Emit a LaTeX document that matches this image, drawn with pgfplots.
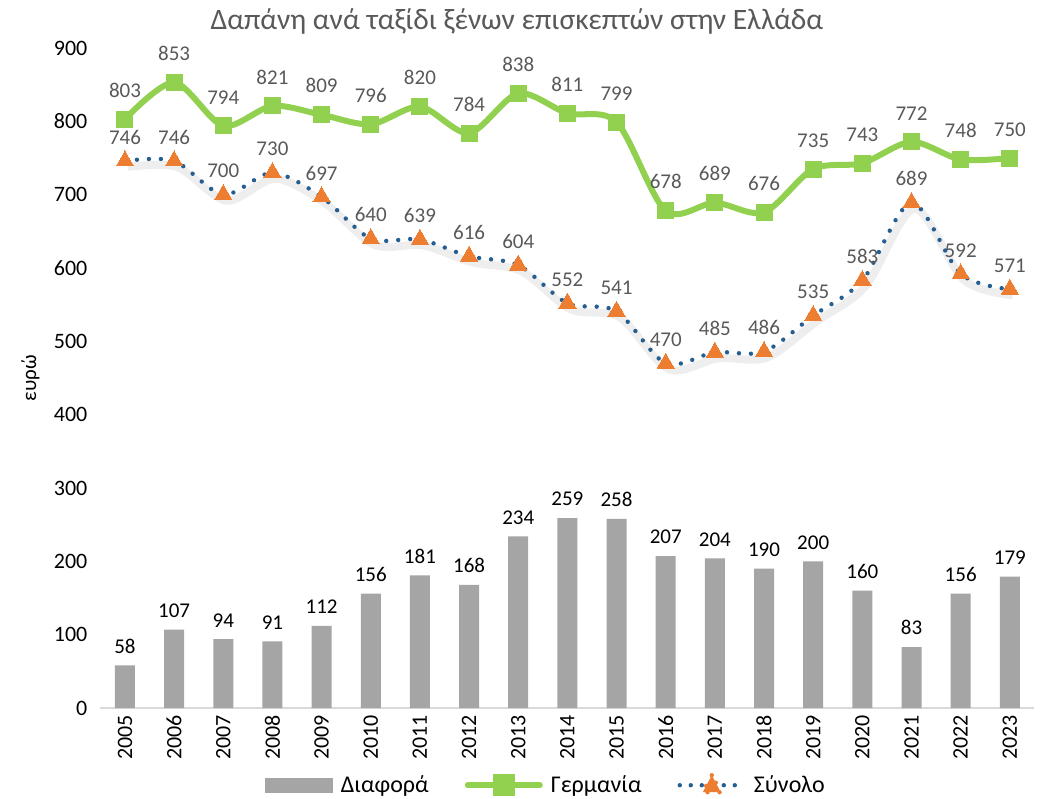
\documentclass[border=0pt]{standalone}
\usepackage{pgfplots}
\pgfplotsset{compat=1.18}
\usepackage{fontspec}
\setmainfont{Carlito}

\definecolor{barg}{HTML}{A5A5A5}
\definecolor{deu}{HTML}{92D050}
\definecolor{tot}{HTML}{255E91}
\definecolor{tri}{HTML}{ED7D31}
\definecolor{lbl}{HTML}{595959}
\definecolor{axl}{HTML}{D9D9D9}

\pgfplotstableread{
year diff germany total
2005 58  803 746
2006 107 853 746
2007 94  794 700
2008 91  821 730
2009 112 809 697
2010 156 796 640
2011 181 820 639
2012 168 784 616
2013 234 838 604
2014 259 811 552
2015 258 799 541
2016 207 678 470
2017 204 689 485
2018 190 676 486
2019 200 735 535
2020 160 743 583
2021 83  772 689
2022 156 748 592
2023 179 750 571
}\data

\begin{document}
\begin{tikzpicture}
\useasboundingbox (-50.2pt,-45pt) rectangle (471.3pt,354pt);
\begin{axis}[
    scale only axis,
    width=467pt, height=330pt,
    xmin=2004.5, xmax=2023.5,
    ymin=0, ymax=900,
    xtick=data,
    ytick={0,100,...,900},
    x tick label style={rotate=90, anchor=east, font=\fontsize{11}{13}\selectfont},
    y tick label style={font=\fontsize{11}{13}\selectfont, xshift=-3pt},
    xticklabel={\pgfmathprintnumber[1000 sep=]{\tick}},
    /pgf/number format/assume math mode=true,
    /pgf/number format/1000 sep={},
    major tick length=0pt,
    axis x line*=bottom,
    axis y line*=left,
    x axis line style={draw=axl, line width=0.8pt, -},
    y axis line style={draw=none},
    title={Δαπάνη ανά ταξίδι ξένων επισκεπτών στην Ελλάδα},
    title style={at={(0.446,1)}, anchor=south, yshift=-2.5pt, text=lbl, font=\fontsize{14.8}{17}\selectfont},
    ylabel={ευρώ},
    ylabel style={font=\fontsize{10.5}{12}\selectfont, at={(axis description cs:-0.075,0.5)}, anchor=center},
    legend style={at={(0.478,-0.117)}, anchor=center, draw=none, legend columns=3,
        font=\fontsize{12}{14}\selectfont, inner sep=0pt,
        /tikz/every odd column/.append style={column sep=2pt},
        /tikz/every even column/.append style={column sep=16pt}},
    legend cell align=left,
]
\addplot[ybar, bar width=10pt, fill=barg, draw=none,
    nodes near coords, every node near coord/.append style={font=\fontsize{10.5}{12}\selectfont, text=black, yshift=2.5pt},
    legend image code/.code={\fill[barg] (0pt,-3.7pt) rectangle (34pt,3.7pt);}] table[x=year, y=diff] {\data};
\addlegendentry{Διαφορά}

\addplot[deu, line width=3pt, smooth, tension=0.5, mark=square*, mark size=4pt,
    mark options={fill=deu, draw=deu, line width=0pt},
    nodes near coords, every node near coord/.append style={font=\fontsize{10.5}{12}\selectfont, text=lbl, yshift=7.5pt},
    legend image code/.code={\draw[deu, line width=3pt, line cap=round] (0pt,0pt) -- (36pt,0pt);
        \fill[deu] (14pt,-4pt) rectangle (22pt,4pt);}]
    table[x=year, y=germany] {\data};
\addlegendentry{Γερμανία}

\addplot[black!30, opacity=0.22, line width=4pt, smooth, tension=0.5, forget plot, yshift=-3pt, xshift=1.5pt]
    table[x=year, y=total] {\data};
\addplot[tot, line width=2.2pt, smooth, tension=0.5, dash pattern=on 0pt off 6pt, line cap=round,
    mark=triangle*, mark size=5pt, mark options={fill=tri, draw=tri, solid, line width=0pt},
    nodes near coords, every node near coord/.append style={font=\fontsize{10.5}{12}\selectfont, text=lbl, yshift=5pt},
    legend image code/.code={\draw[tot, line width=2.2pt, line cap=round, dash pattern=on 0pt off 5.5pt] (1pt,0pt) -- (33pt,0pt);
        \fill[tri] (17pt,5pt) -- (12.5pt,-3.5pt) -- (21.5pt,-3.5pt) -- cycle;}]
    table[x=year, y=total] {\data};
\addlegendentry{Σύνολο}
\end{axis}
\end{tikzpicture}
\end{document}
